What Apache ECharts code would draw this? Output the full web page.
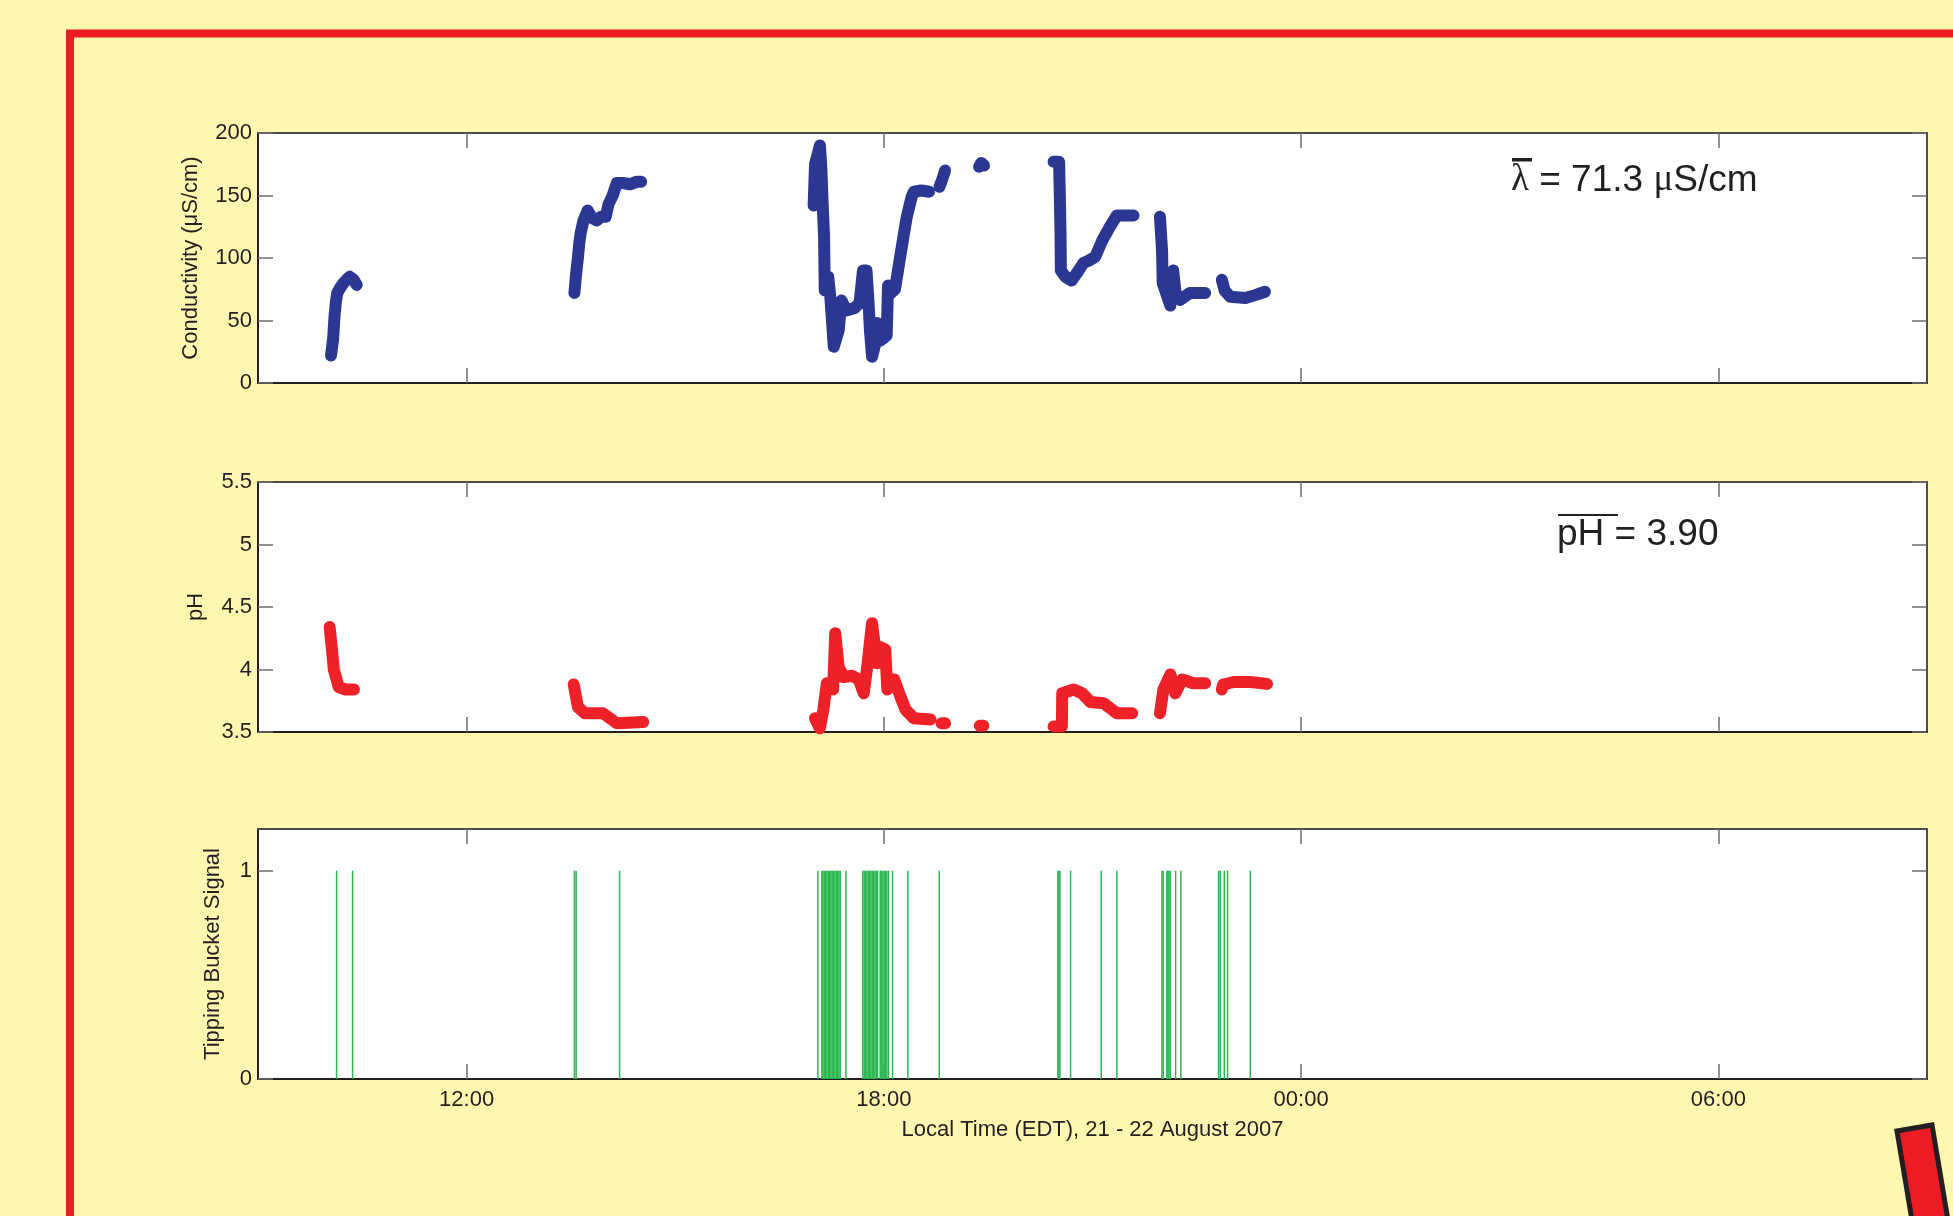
<!DOCTYPE html>
<html>
<head>
<meta charset="utf-8">
<title>Conductivity, pH and tipping bucket, 21 - 22 August 2007</title>
<script src="https://cdn.jsdelivr.net/npm/echarts@6/dist/echarts.min.js"></script>
<style>
  html, body { margin: 0; padding: 0; background: #fff7b0; }
  #chart { width: 1953px; height: 1216px; }
</style>
</head>
<body>
<div id="chart"></div>
<script>
// time is in hours from midnight of 21 Aug (24 = 00:00 on 22 Aug), null = gap in the record
const condHours = [
  10.05, 10.08, 10.10, 10.12, 10.14, 10.18, 10.23, 10.28, 10.32, 10.37, 10.42, null,
  13.55, 13.57, 13.60, 13.62, 13.64, 13.68, 13.74, 13.80, 13.87, 13.93, 14.00, 14.04, 14.10, 14.16, 14.25, 14.35, 14.45, 14.51, null,
  16.99, 17.01, 17.08, 17.10, 17.12, 17.14, 17.15, 17.20, 17.23, 17.28, 17.35, 17.39, 17.46, 17.58, 17.65, 17.70, 17.75, 17.78, 17.80, 17.83,
  17.88, 17.90, 17.95, 18.04, 18.06, 18.10, 18.16, 18.22, 18.29, 18.33, 18.40, 18.43, 18.54, 18.65, null,
  18.80, 18.84, 18.88, null,
  19.37, 19.40, 19.44, null,
  20.44, 20.52, 20.53, 20.54, 20.545, 20.61, 20.70, 20.80, 20.87, 20.95, 21.04, 21.14, 21.25, 21.35, 21.47, 21.59, null,
  21.97, 22.00, 22.01, 22.12, 22.16, 22.20, 22.26, 22.40, 22.62, null,
  22.86, 22.90, 22.98, 23.20, 23.35, 23.48
];
const condValues = [
  22, 35, 53, 65, 72, 76, 80, 83, 85, 83, 78.5, null,
  72, 85, 100, 112, 120, 130, 138, 132, 130, 133, 133, 143, 150, 160, 160, 159, 161, 161, null,
  142, 175, 190, 173, 143, 117, 74, 85, 69, 29, 42, 66, 58, 60, 64, 90, 90, 64, 42, 21,
  32, 48, 34, 38, 78, 72, 75, 96, 120, 133, 149, 153, 154, 153, null,
  157, 163, 170, null,
  173, 176, 174, null,
  177, 177, 150, 120, 90, 85, 82, 90, 96, 98, 101, 114, 125, 134, 134, 134, null,
  133, 106, 80, 62, 90, 69, 66.5, 72, 72, null,
  82.5, 74, 69, 68, 70.5, 73
];

const phHours = [
  10.03, 10.06, 10.09, 10.16, 10.26, 10.38, null,
  13.54, 13.60, 13.70, 13.96, 14.16, 14.54, null,
  17.01, 17.08, 17.13, 17.18, 17.27, 17.30, 17.35, 17.42, 17.54, 17.64, 17.71, 17.76, 17.83, 17.90, 17.95, 18.02,
  18.05, 18.15, 18.24, 18.31, 18.43, 18.67, null,
  18.83, 18.88, null,
  19.38, 19.43, null,
  20.44, 20.56, 20.565, 20.73, 20.85, 20.97, 21.16, 21.35, 21.57, null,
  21.97, 22.02, 22.12, 22.19, 22.29, 22.45, 22.62, null,
  22.86, 22.88, 23.03, 23.27, 23.51
];
const phValues = [
  4.34, 4.18, 4.0, 3.86, 3.84, 3.84, null,
  3.88, 3.70, 3.65, 3.65, 3.57, 3.58, null,
  3.61, 3.53, 3.68, 3.89, 3.84, 4.29, 4.02, 3.94, 3.95, 3.92, 3.81, 4.02, 4.37, 4.05, 4.18, 4.16,
  3.84, 3.92, 3.78, 3.68, 3.61, 3.60, null,
  3.57, 3.57, null,
  3.55, 3.55, null,
  3.545, 3.545, 3.81, 3.84, 3.81, 3.74, 3.73, 3.65, 3.65, null,
  3.65, 3.84, 3.96, 3.81, 3.92, 3.89, 3.89, null,
  3.84, 3.88, 3.90, 3.90, 3.885
];

const tipHours = [
  10.13, 10.36,
  13.55, 13.575, 14.20,
  17.051, 17.108, 17.123, 17.142, 17.161, 17.180, 17.200, 17.219, 17.238, 17.257, 17.276, 17.295, 17.315, 17.334, 17.353, 17.372, 17.454,
  17.698, 17.717, 17.736, 17.756, 17.775, 17.794, 17.813, 17.832, 17.851, 17.871, 17.890, 17.909, 17.947, 17.966, 17.986, 18.005, 18.024, 18.043, 18.067, 18.125,
  18.345, 18.796,
  20.502, 20.517, 20.531, 20.685, 21.126, 21.351,
  21.998, 22.017, 22.070, 22.084, 22.099, 22.118, 22.195, 22.271,
  22.813, 22.837, 22.895, 22.942, 23.269
];
const tipSignal = [
  1, 1,
  1, 1, 1,
  1, 1, 1, 1, 1, 1, 1, 1, 1, 1, 1, 1, 1, 1, 1, 1, 1,
  1, 1, 1, 1, 1, 1, 1, 1, 1, 1, 1, 1, 1, 1, 1, 1, 1, 1, 1, 1,
  1, 1,
  1, 1, 1, 1, 1, 1,
  1, 1, 1, 1, 1, 1, 1, 1,
  1, 1, 1, 1, 1
];

const timeTicks = [12, 18, 24, 30];
const condTicks = [0, 50, 100, 150, 200];
const phTicks = [3.5, 4, 4.5, 5, 5.5];
const tipTicks = [0, 1];

const meanCond = '71.3';
const meanPh = '3.90';

const FONT = "'Liberation Sans', Arial, Helvetica, sans-serif";
const INK = '#231f20';
const TICK = '#6d6e71';
const GRID_LEFT = 258;
const GRID_RIGHT = 26;
const GRID_TOPS = [133, 482, 829];
const GRID_H = 250;

const chart = echarts.init(document.getElementById('chart'));

const toPairs = (hs, vs) => hs.map((h, i) => (h == null || vs[i] == null ? ['-', '-'] : [h, vs[i]]));

const hourLabel = (v) => {
  const hh = ((Math.round(v) % 24) + 24) % 24;
  return String(hh).padStart(2, '0') + ':00';
};

const textStyle = { fontFamily: FONT, fontSize: 22, color: INK };

// x axes: bottom + top (box with inner ticks) for each panel
const makeX = (gridIndex, withLabels) => [
  {
    gridIndex,
    type: 'value',
    min: 9,
    max: 33,
    position: 'bottom',
    axisLine: { show: true, onZero: false, lineStyle: { color: INK, width: 2 } },
    axisTick: { show: true, inside: true, length: 15, customValues: timeTicks, lineStyle: { color: TICK, width: 1.5 } },
    axisLabel: { show: withLabels, customValues: timeTicks, formatter: hourLabel, margin: 10, ...textStyle },
    splitLine: { show: false },
    name: withLabels ? 'Local Time (EDT), 21 - 22 August 2007' : '',
    nameLocation: 'middle',
    nameGap: 40,
    nameTextStyle: textStyle,
  },
  {
    gridIndex,
    type: 'value',
    min: 9,
    max: 33,
    position: 'top',
    axisLine: { show: true, onZero: false, lineStyle: { color: '#4d4d4f', width: 2 } },
    axisTick: { show: true, inside: true, length: 15, customValues: timeTicks, lineStyle: { color: TICK, width: 1.5 } },
    axisLabel: { show: false },
    splitLine: { show: false },
  },
]

// y ticks point into the plot box
const yTick = (ticks) => ({ show: true, inside: true, length: 15, customValues: ticks, lineStyle: { color: TICK, width: 1.5 } });

const makeY = (gridIndex, range, ticks, name, nameGap) => [
  {
    gridIndex,
    type: 'value',
    min: range[0],
    max: range[1],
    position: 'left',
    axisLine: { show: true, onZero: false, lineStyle: { color: INK, width: 2 } },
    axisTick: yTick(ticks),
    axisLabel: { show: true, customValues: ticks, margin: 6, ...textStyle },
    splitLine: { show: false },
    name,
    nameLocation: 'middle',
    nameGap,
    nameTextStyle: textStyle,
  },
  {
    gridIndex,
    type: 'value',
    min: range[0],
    max: range[1],
    position: 'right',
    axisLine: { show: true, onZero: false, lineStyle: { color: '#4d4d4f', width: 2 } },
    axisTick: yTick(ticks),
    axisLabel: { show: false },
    splitLine: { show: false },
  },
]

const option = {
  animation: false,
  backgroundColor: '#fff7b0',
  grid: GRID_TOPS.map((top) => ({
    left: GRID_LEFT,
    right: GRID_RIGHT,
    top,
    height: GRID_H,
    show: true,
    backgroundColor: '#ffffff',
    borderWidth: 0,
  })),
  xAxis: [...makeX(0, false), ...makeX(1, false), ...makeX(2, true)],
  yAxis: [
    ...makeY(0, [0, 200], condTicks, 'Conductivity (\u03bcS/cm)', 56),
    ...makeY(1, [3.5, 5.5], phTicks, 'pH', 51),
    ...makeY(2, [0, 1.2], tipTicks, 'Tipping Bucket Signal', 34),
  ],
  series: [
    {
      name: 'Conductivity',
      type: 'line',
      xAxisIndex: 0,
      yAxisIndex: 0,
      data: toPairs(condHours, condValues),
      showSymbol: false,
      connectNulls: false,
      clip: false,
      lineStyle: { color: '#2b3792', width: 12, cap: 'round', join: 'round' },
    },
    {
      name: 'pH',
      type: 'line',
      xAxisIndex: 2,
      yAxisIndex: 2,
      data: toPairs(phHours, phValues),
      showSymbol: false,
      connectNulls: false,
      clip: false,
      lineStyle: { color: '#ee2128', width: 12, cap: 'round', join: 'round' },
    },
    {
      name: 'Tipping bucket',
      type: 'bar',
      xAxisIndex: 4,
      yAxisIndex: 4,
      data: tipHours.map((h, i) => [h, tipSignal[i]]),
      barWidth: 1.5,
      itemStyle: { color: '#2db552' },
    },
  ],
  graphic: [
    // red frame of the poster panel
    {
      type: 'rect',
      silent: true,
      shape: { x: 70, y: 33.5, width: 2000, height: 1400 },
      style: { fill: 'none', stroke: '#ed1c24', lineWidth: 8 },
    },
    // pencil corner at bottom right
    {
      type: 'polygon',
      silent: true,
      shape: { points: [[1897, 1131], [1932, 1125], [1955, 1262], [1920, 1268]] },
      style: { fill: '#ed1c24', stroke: '#231f20', lineWidth: 5 },
    },
    // mean conductivity
    {
      type: 'text',
      silent: true,
      left: 1511,
      top: 162,
      style: {
        text: '{g|\u03bb} = ' + meanCond + ' {g|\u03bc}S/cm',
        font: "37px 'Liberation Sans', Arial, sans-serif",
        fill: INK,
        rich: { g: { fontFamily: "'Liberation Serif', 'DejaVu Serif', serif", fontSize: 37, fill: INK } },
      },
    },
    {
      type: 'rect',
      silent: true,
      shape: { x: 1512, y: 158, width: 20, height: 3.5 },
      style: { fill: INK },
    },
    // mean pH
    {
      type: 'text',
      silent: true,
      left: 1557,
      top: 516,
      style: {
        text: 'pH = ' + meanPh,
        font: "37px 'Liberation Sans', Arial, sans-serif",
        fill: INK,
      },
    },
    {
      type: 'rect',
      silent: true,
      shape: { x: 1558, y: 514, width: 60, height: 2 },
      style: { fill: INK },
    },
  ],
};

chart.setOption(option);
</script>
</body>
</html>
